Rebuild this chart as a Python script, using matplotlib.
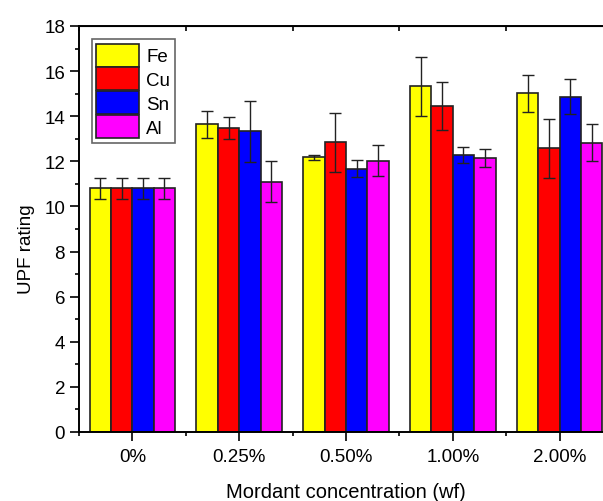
import numpy as np
from matplotlib import pyplot as plt
from matplotlib.ticker import MultipleLocator, FixedLocator

plt.rcParams['font.family'] = ['Liberation Sans', 'DejaVu Sans']

groups = ['0%', '0.25%', '0.50%', '1.00%', '2.00%']
series = ['Fe', 'Cu', 'Sn', 'Al']
colors = ['#ffff00', '#ff0000', '#0000ff', '#ff00ff']

fe = [10.8, 13.64, 12.18, 15.32, 15.01]
cu = [10.8, 13.48, 12.84, 14.45, 12.57]
sn = [10.8, 13.34, 11.67, 12.29, 14.86]
al = [10.8, 11.10, 12.03, 12.13, 12.82]

fe_err = [0.45, 0.60, 0.11, 1.32, 0.83]
cu_err = [0.45, 0.47, 1.31, 1.08, 1.30]
sn_err = [0.45, 1.35, 0.38, 0.36, 0.78]
al_err = [0.45, 0.90, 0.68, 0.40, 0.82]

values = [fe, cu, sn, al]
errors = [fe_err, cu_err, sn_err, al_err]

fig = plt.figure(figsize=(6.03, 5.02), dpi=100)
# axes run past the right edge, as in the cropped original
ax = fig.add_axes([0.131, 0.1375, 0.8856, 0.8088])

x = np.arange(len(groups))
w = 0.2
for i, (name, vals, errs, c) in enumerate(zip(series, values, errors, colors)):
    ax.bar(x + (i - 1.5) * w, vals, w, color=c, edgecolor='#222222', linewidth=1.2,
           label=name, zorder=2)
    ax.errorbar(x + (i - 1.5) * w, vals, yerr=errs, fmt='none', ecolor='#222222',
                elinewidth=1.0, capsize=4, capthick=1.0, zorder=3)

ax.set_xlim(-0.5, 4.5)
ax.set_ylim(0, 18)
ax.set_xticks(x)
ax.set_xticklabels(groups)
ax.xaxis.set_minor_locator(FixedLocator(np.arange(-0.5, 5, 1.0)))
ax.yaxis.set_major_locator(MultipleLocator(2))
ax.yaxis.set_minor_locator(MultipleLocator(1))

ax.tick_params(axis='both', which='major', direction='out', length=6.5, width=1.2,
               labelsize=13.5)
ax.tick_params(axis='x', which='major', pad=5)
ax.tick_params(axis='both', which='minor', direction='out', length=3, width=1.2)
for s in ax.spines.values():
    s.set_linewidth(1.4)

# top axis: only small inward ticks between the groups
top = ax.secondary_xaxis('top')
top.set_xticks(np.arange(-0.5, 5, 1.0))
top.set_xticklabels([])
top.tick_params(direction='in', length=3.6, width=1.2)

ax.set_xlabel('Mordant concentration (wf)', fontsize=14.5, labelpad=12)
ax.set_ylabel('UPF rating', fontsize=13.5)
ax.yaxis.set_label_coords(-0.082, 0.453)

leg = ax.legend(loc='upper left', bbox_to_anchor=(0.024, 0.968), fontsize=13.5,
                handlelength=2.25, handleheight=1.5, labelspacing=0.05,
                handletextpad=0.4, borderpad=0.25, borderaxespad=0, fancybox=False,
                framealpha=1)
leg.get_frame().set_edgecolor('#666666')
leg.get_frame().set_linewidth(1.2)

fig.savefig('out.png', dpi=100)
